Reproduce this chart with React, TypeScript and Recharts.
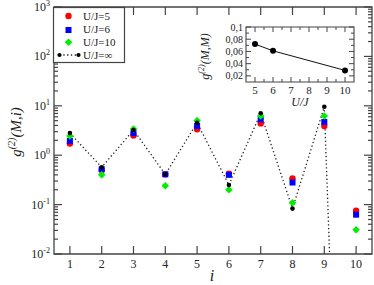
import { ComposedChart, LineChart, Line, XAxis, YAxis, ReferenceArea } from 'recharts';

// site index i and g2(M,i) per interaction strength
const sites = [1, 2, 3, 4, 5, 6, 7, 8, 9, 10];
const gU5 = [1.73, 0.5, 2.5, 0.41, 3.35, 0.42, 4.4, 0.34, 3.9, 0.075];
const gU6 = [1.95, 0.52, 2.8, 0.41, 3.9, 0.4, 5.3, 0.28, 4.7, 0.0625];
const gU10 = [2.45, 0.4, 3.4, 0.24, 5.0, 0.2, 6.2, 0.109, 6.2, 0.031];
const gUInf = [2.8, 0.57, 3.24, 0.41, 4.55, 0.25, 7.05, 0.083, 9.6, 1e-17];

// inset: g2(M,M) vs U/J
const insetU = [5, 6, 10];
const insetG = [0.072, 0.061, 0.029];

const yMajor = [0.01, 0.1, 1, 10, 100, 1000];
const insetXTicks = [5, 5.5, 6, 6.5, 7, 7.5, 8, 8.5, 9, 9.5, 10];
const insetYTicks = [0.02, 0.03, 0.04, 0.05, 0.06, 0.07, 0.08, 0.09, 0.1];

const legendItems = ['U/J=5', 'U/J=6', 'U/J=10', 'U/J=\u221e'];

const PL = 54, PR = 372, PT = 7, PB = 254;
// inset svg sits at (IX0, IY0); plot box in its own coordinates
const IX0 = 196, IY0 = 17, IW = 164, IH = 95;
const IL = 50, IR = 158, IT = 10, IB = 65;
const AX = '#444';
const SERIF = 'Liberation Serif, Times New Roman, DejaVu Serif, serif';

const rows = sites.map((i, k) => ({ i, u5: gU5[k], u6: gU6[k], u10: gU10[k], inf: gUInf[k] }));
const insetRows = insetU.map((u, k) => ({ u, g: insetG[k] }));

const yTicks: number[] = [];
yMajor.forEach((d, k) => {
    yTicks.push(d);
    if (k < yMajor.length - 1) for (let m = 2; m <= 9; m++) yTicks.push(+(m * d).toPrecision(3));
});

const XTick = (props: any) => {
    const { x, payload } = props;
    return (
        <g>
            <line x1={x} x2={x} y1={PB} y2={PB - 8} stroke={AX} strokeWidth={1.2} />
            <line x1={x} x2={x} y1={PT} y2={PT + 8} stroke={AX} strokeWidth={1.2} />
            <text x={x} y={PB + 14} textAnchor="middle" fontSize={12} style={{ fontFamily: SERIF }} fill="#222">{payload.value}</text>
        </g>
    );
};

const YTick = (props: any) => {
    const { y, payload } = props;
    const lg = Math.log10(payload.value);
    const exp = Math.round(lg);
    const major = Math.abs(lg - exp) < 1e-6;
    const len = major ? 8 : 4;
    return (
        <g>
            <line x1={PL} x2={PL + len} y1={y} y2={y} stroke={AX} strokeWidth={1.2} />
            <line x1={PR - len} x2={PR} y1={y} y2={y} stroke={AX} strokeWidth={1.2} />
            {major && (
                <text x={PL - 4} y={y + 4} textAnchor="end" fontSize={12} style={{ fontFamily: SERIF }} fill="#222">
                    10<tspan dy={-5} fontSize={8}>{String(exp)}</tspan>
                </text>
            )}
        </g>
    );
};

const IXTick = (props: any) => {
    const { x, payload } = props;
    const major = Number.isInteger(payload.value);
    const len = major ? 5 : 3;
    return (
        <g>
            <line x1={x} x2={x} y1={IB} y2={IB - len} stroke={AX} strokeWidth={1} />
            <line x1={x} x2={x} y1={IT} y2={IT + len} stroke={AX} strokeWidth={1} />
            {major && <text x={x} y={IB + 12} textAnchor="middle" fontSize={11} style={{ fontFamily: SERIF }} fill="#222">{payload.value}</text>}
        </g>
    );
};

const IYTick = (props: any) => {
    const { y, payload } = props;
    const major = Math.round(payload.value * 100) % 2 === 0;
    const len = major ? 5 : 3;
    return (
        <g>
            <line x1={IL} x2={IL + len} y1={y} y2={y} stroke={AX} strokeWidth={1} />
            <line x1={IR - len} x2={IR} y1={y} y2={y} stroke={AX} strokeWidth={1} />
            {major && (
                <text x={IL - 3} y={y + 3.5} textAnchor="end" fontSize={10} style={{ fontFamily: SERIF }} fill="#222">
                    {String(+payload.value.toFixed(2)).replace('.', ',')}
                </text>
            )}
        </g>
    );
};

const redDot = (p: any) => <circle key={p.index} cx={p.cx} cy={p.cy} r={3.2} fill="#ff0000" />;
const blueDot = (p: any) => <rect key={p.index} x={p.cx - 3} y={p.cy - 3} width={6} height={6} fill="#0000ff" />;
const greenDot = (p: any) => (
    <path key={p.index} d={`M${p.cx},${p.cy - 3.8}L${p.cx + 3.8},${p.cy}L${p.cx},${p.cy + 3.8}L${p.cx - 3.8},${p.cy}Z`} fill="#00ee00" />
);
const blackDot = (p: any) => <circle key={p.index} cx={p.cx} cy={p.cy} r={2.3} fill="#000" />;

const Legend = () => (
    <svg width={80} height={64} style={{ position: 'absolute', left: 50, top: 4 }}>
        <rect x={3.5} y={3.5} width={71} height={55} fill="#fff" stroke={AX} strokeWidth={1.2} />
        <circle cx={18.5} cy={12} r={3.2} fill="#ff0000" />
        <rect x={15.5} y={23} width={6} height={6} fill="#0000ff" />
        <path d="M18.5,34.5L22.3,38.3L18.5,42.1L14.7,38.3Z" fill="#00ee00" />
        <line x1={9.5} x2={28.5} y1={51} y2={51} stroke="#222" strokeWidth={1.3} strokeDasharray="1.3 2.5" />
        <circle cx={9.5} cy={51} r={2.1} fill="#000" />
        <circle cx={28.5} cy={51} r={2.1} fill="#000" />
        {legendItems.map((t, k) => (
            <text key={t} x={33} y={16 + k * 13} fontSize={11} style={{ fontFamily: SERIF }} fill="#222">{t}</text>
        ))}
    </svg>
);

export default function App() {
    return (
        <div style={{ position: 'absolute', left: 0, top: 0, width: 374, height: 285, background: '#fff', fontFamily: SERIF }}>
            <ComposedChart width={374} height={285} data={rows} margin={{ top: PT, right: 374 - PR, left: 0, bottom: 0 }}>
                <ReferenceArea x1={0.5} x2={10.5} y1={0.01} y2={1000} fill="none" stroke={AX} strokeWidth={1.3} ifOverflow="visible" />
                <XAxis
                    dataKey="i"
                    type="number"
                    domain={[0.5, 10.5]}
                    ticks={sites}
                    interval={0}
                    allowDataOverflow
                    height={285 - PB}
                    axisLine={false}
                    tickLine={false}
                    tick={XTick}
                    label={() => (
                        <text x={212} y={281} textAnchor="middle" fontSize={16} fontStyle="italic" style={{ fontFamily: SERIF }} fill="#222">i</text>
                    )}
                />
                <YAxis
                    type="number"
                    scale="log"
                    domain={[0.01, 1000]}
                    allowDataOverflow
                    ticks={yTicks}
                    interval={0}
                    width={PL}
                    axisLine={false}
                    tickLine={false}
                    tick={YTick}
                    label={() => (
                        <text transform="translate(21,132) rotate(-90)" textAnchor="middle" fontSize={15} fontStyle="italic" style={{ fontFamily: SERIF }} fill="#222">
                            g<tspan dy={-6} fontSize={10}>(2)</tspan><tspan dy={6}>(M,i)</tspan>
                        </text>
                    )}
                />
                <Line dataKey="inf" stroke="#222" strokeWidth={1.3} strokeDasharray="1.3 2.5" dot={false} isAnimationActive={false} />
                <Line dataKey="u5" stroke="none" dot={redDot} isAnimationActive={false} />
                <Line dataKey="u6" stroke="none" dot={blueDot} isAnimationActive={false} />
                <Line dataKey="u10" stroke="none" dot={greenDot} isAnimationActive={false} />
                <Line dataKey="inf" stroke="none" dot={blackDot} isAnimationActive={false} />
            </ComposedChart>
            <Legend />
            <div style={{ position: 'absolute', left: IX0, top: IY0 }}>
                <LineChart width={IW} height={IH} data={insetRows} margin={{ top: IT, right: IW - IR, left: 0, bottom: 0 }}>
                    <ReferenceArea x1={4.5} x2={10.5} y1={0.01} y2={0.1} fill="none" stroke={AX} strokeWidth={1.1} ifOverflow="visible" />
                    <XAxis
                        dataKey="u"
                        type="number"
                        domain={[4.5, 10.5]}
                        ticks={insetXTicks}
                        interval={0}
                        allowDataOverflow
                        height={IH - IB}
                        axisLine={false}
                        tickLine={false}
                        tick={IXTick}
                        label={() => (
                            <text x={(IL + IR) / 2} y={IB + 24} textAnchor="middle" fontSize={12} fontStyle="italic" style={{ fontFamily: SERIF }} fill="#222">U/J</text>
                        )}
                    />
                    <YAxis
                        type="number"
                        domain={[0.01, 0.1]}
                        allowDataOverflow
                        ticks={insetYTicks}
                        interval={0}
                        width={IL}
                        axisLine={false}
                        tickLine={false}
                        tick={IYTick}
                        label={() => (
                            <text transform={`translate(13,${(IT + IB) / 2 + 2}) rotate(-90)`} textAnchor="middle" fontSize={12} fontStyle="italic" style={{ fontFamily: SERIF }} fill="#222">
                                g<tspan dy={-5} fontSize={8}>(2)</tspan><tspan dy={5}>(M,M)</tspan>
                            </text>
                        )}
                    />
                    <Line dataKey="g" stroke="#111" strokeWidth={1} dot={{ r: 3, fill: '#000', stroke: 'none' }} isAnimationActive={false} />
                </LineChart>
            </div>
        </div>
    );
}
